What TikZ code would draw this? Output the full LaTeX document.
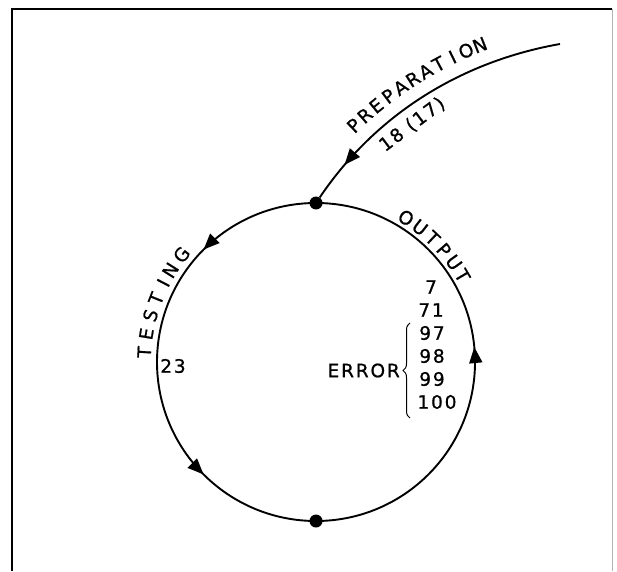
\documentclass[tikz,border=0pt]{standalone}
\usepackage{fontspec}
\setmainfont{DejaVu Sans}[LetterSpace=10, FakeBold=0.8]
\usetikzlibrary{arrows.meta, positioning, calc, decorations.markings, decorations.pathreplacing}

\begin{document}
\begin{tikzpicture}[
    x=1pt, y=1pt,
    every node/.style={font=\fontsize{18.5}{20}\selectfont, inner sep=1pt},
    dot/.style={circle, fill=black, minimum size=13pt, inner sep=0pt},
    flow/.style={line width=1.9pt},
    tipat/.style={postaction={decorate, decoration={markings,
        mark=at position #1 with {\arrow{Triangle[length=16pt, width=13pt]}}}}},
    brace/.style={decorate, decoration={brace, amplitude=7pt}, line width=1pt}
  ]
  \useasboundingbox (0,0) rectangle (617,571);

  % frame
  \draw[line width=1.6pt] (12,0) -- (12,562) -- (612,562);
  \draw[gray!60, line width=0.9pt] (612,562) -- (612,0);

  \coordinate (ctr) at (316,209);
  \coordinate (pc) at (622,165);
  \coordinate (prep) at (560,527);

  \node[dot] (top) at (316,368) {};
  \node[dot] (bot) at (316,50) {};

  % loop
  \draw[flow, tipat=0.25, tipat=0.75] (top.center) arc[start angle=90, end angle=270, radius=159];
  \draw[flow, tipat=0.53] (bot.center) arc[start angle=270, end angle=450, radius=159];
  \draw[flow, tipat=0.86] (prep) to[out=190, in=56, looseness=0.9] (top);

  % lettering along the curves
  \foreach \ch/\ang in {P/133.7, R/131.5, E/129.3, P/127.0, A/124.8, R/122.6,
                        A/120.4, T/118.2, I/115.9, O/113.7, N/111.5}
    \node[rotate=\ang-90] at ($(pc)+(\ang:388)$) {\ch};
  \node[rotate=37] (prepnum) at ($(pc)+(126.7:351)$) {18 (17)};

  \foreach \ch/\ang in {T/176.7, E/170.6, S/164.3, T/158.4, I/152.6, N/147.8, G/141.4}
    \node[rotate=\ang-90] at ($(ctr)+(\ang:172)$) {\ch};

  \foreach \ch/\ang in {O/58, U/52.3, T/46.7, P/41.2, U/35.8, T/30.5}
    \node[rotate=\ang-90] at ($(ctr)+(\ang:170)$) {\ch};

  \node (test) at (173,205) {23};

  % output codes
  \node (n7)   at (431,284) {7};
  \node (n71)  at (431,261) {71};
  \node (n97)  at (432,238) {97};
  \node (n98)  at (432,215) {98};
  \node (n99)  at (432,192) {99};
  \node (n100) at (437,169) {100};

  \coordinate (blo) at (410,153);
  \coordinate (bhi) at (410,248);
  \draw[brace] (blo) -- (bhi) coordinate[pos=0.5, xshift=-8pt] (btip);
  \node[left=1pt of btip] (err) {ERROR};

\end{tikzpicture}
\end{document}
